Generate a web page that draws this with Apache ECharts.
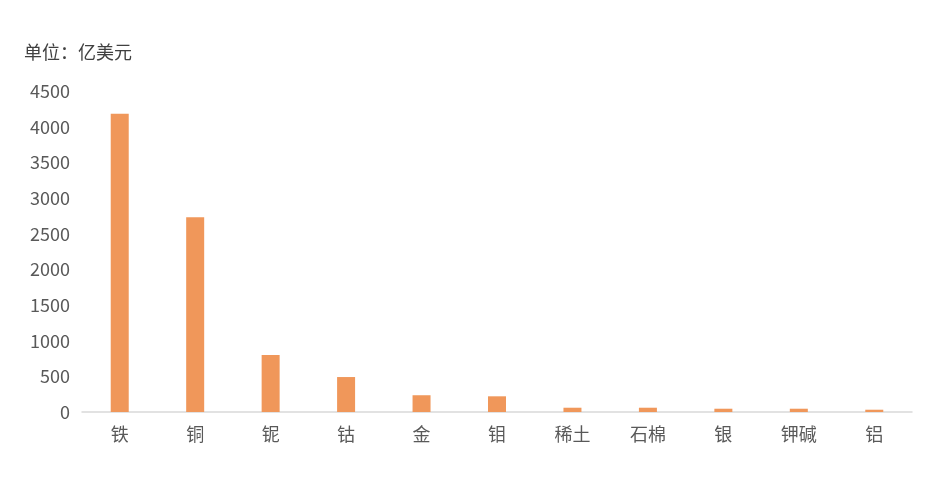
<!DOCTYPE html>
<html><head><meta charset="utf-8">
<script src="https://cdn.jsdelivr.net/npm/echarts@6/dist/echarts.min.js"></script>
<style>html,body{margin:0;padding:0;background:#fff}#c{width:940px;height:504px}</style>
</head><body><div id="c"></div>
<script>
const categories = ['铁','铜','铌','钴','金','钼','稀土','石棉','银','钾碱','铝'];
const values = [4180, 2730, 800, 490, 235, 220, 60, 60, 46, 46, 32];
const yTicks = {min: 0, max: 4500, interval: 500};
const unitLabel = '单位：亿美元';

const chart = echarts.init(document.getElementById('c'));
chart.setOption({
  animation: false,
  textStyle: {fontFamily: '"Noto Sans CJK SC", "Noto Sans", sans-serif'},
  title: {text: unitLabel, left: 19, top: 38, textStyle: {fontSize: 18, fontWeight: 'normal', color: '#404040', fontFamily: '"Noto Sans CJK SC", sans-serif'}},
  grid: {left: 82, right: 28, top: 91, bottom: 92},
  xAxis: {
    type: 'category', data: categories,
    axisLine: {lineStyle: {color: '#d9d9d9', width: 1.5}},
    axisTick: {show: false},
    axisLabel: {color: '#595959', fontSize: 18, margin: 13}
  },
  yAxis: {
    type: 'value', min: yTicks.min, max: yTicks.max, interval: yTicks.interval,
    splitLine: {show: false},
    axisLine: {show: false}, axisTick: {show: false},
    axisLabel: {color: '#595959', fontSize: 18, margin: 12, formatter: v => String(v)}
  },
  series: [{type: 'bar', data: values, barWidth: 18, itemStyle: {color: '#F0975A'}}]
});
</script></body></html>
